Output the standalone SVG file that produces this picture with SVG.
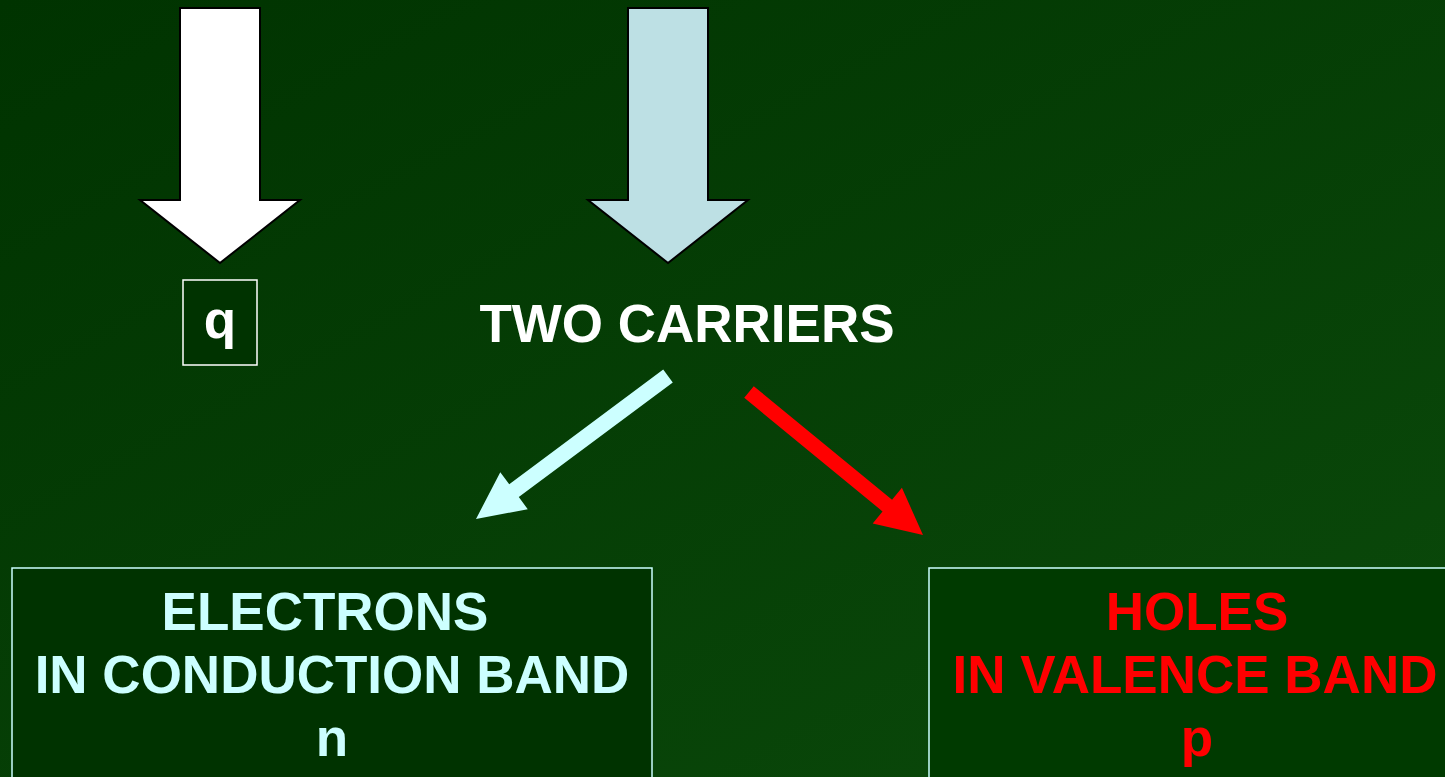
<svg xmlns="http://www.w3.org/2000/svg" width="1445" height="777" viewBox="0 0 1445 777">
<defs>
<linearGradient id="bg" x1="0" y1="0" x2="1" y2="1">
<stop offset="0" stop-color="#003300"/>
<stop offset="1" stop-color="#0b4a0b"/>
</linearGradient>
<style>
text{font-family:"Liberation Sans",Arial,sans-serif;font-weight:bold;font-size:53px;text-anchor:middle}
.blk{stroke:#000;stroke-width:2;stroke-linejoin:miter}
.box{stroke:#ccffff;stroke-width:1.5}
</style>
</defs>
<rect width="1445" height="777" fill="url(#bg)"/>
<g id="arrow-q">
<polygon class="blk" fill="#ffffff" points="180,8 260,8 260,200 300,200 220,263 140,200 180,200"/>
</g>
<g id="arrow-carriers">
<polygon class="blk" fill="#bde0e4" points="628,8 708,8 708,200 748,200 668,263 588,200 628,200"/>
</g>
<g id="node-q">
<rect x="183" y="280" width="74" height="85" fill="#003300" stroke="#ffffff" stroke-width="1.5"/>
<text x="220" y="338" fill="#ffffff">q</text>
</g>
<g id="node-two-carriers">
<text x="687" y="342" fill="#ffffff">TWO CARRIERS</text>
</g>
<g id="connectors">
<path fill="#ccffff" transform="translate(668,376) rotate(143.32)" d="M0,-8 L192,-8 L192,-23 L239.4,0 L192,23 L192,8 L0,8 Z"/>
<path fill="#ff0000" transform="translate(749,392) rotate(39.41)" d="M0,-7.5 L179,-7.5 L179,-23 L225.2,0 L179,23 L179,7.5 L0,7.5 Z"/>
</g>
<g id="node-electrons">
<rect class="box" x="12" y="568" width="640" height="230" fill="#003300"/>
<text x="325" y="630" fill="#ccffff">ELECTRONS</text>
<text x="332" y="693" fill="#ccffff">IN CONDUCTION BAND</text>
<text x="332" y="756" fill="#ccffff">n</text>
</g>
<g id="node-holes">
<rect class="box" x="929" y="568" width="540" height="230" fill="#003a00"/>
<text x="1197" y="630" fill="#ff0000">HOLES</text>
<text x="1195" y="693" fill="#ff0000">IN VALENCE BAND</text>
<text x="1197" y="756" fill="#ff0000">p</text>
</g>
</svg>
